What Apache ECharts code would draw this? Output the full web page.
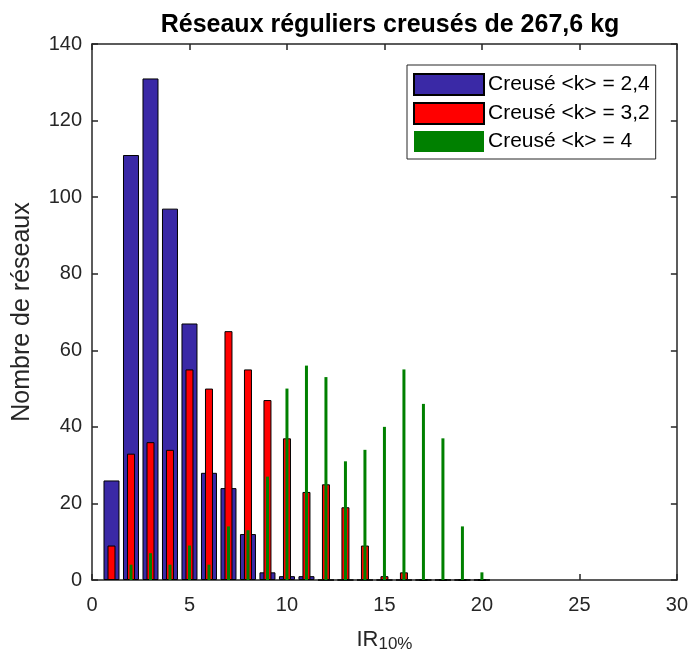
<!DOCTYPE html>
<html>
<head>
<meta charset="utf-8">
<script src="https://cdn.jsdelivr.net/npm/echarts@6/dist/echarts.min.js"></script>
<style>
  html, body { margin: 0; padding: 0; background: #fff; }
  #chart { width: 691px; height: 660px; }
</style>
</head>
<body>
<div id="chart"></div>
<script>
// positions IR10% (1..20), comptes par série
const irPos = [1, 2, 3, 4, 5, 6, 7, 8, 9, 10, 11, 12, 13, 14, 15, 16, 17, 18, 19, 20]
const creuse24 = [26, 111, 131, 97, 67, 28, 24, 12, 2, 1, 1, 0, 0, 0, 0, 0, 0, 0, 0, 0]
const creuse32 = [9, 33, 36, 34, 55, 50, 65, 55, 47, 37, 23, 25, 19, 9, 1, 2, 0, 0, 0, 0]
const creuse4 = [0, 4, 7, 4, 9, 4, 14, 13, 27, 50, 56, 53, 31, 34, 40, 55, 46, 37, 14, 2]
const seriesNames = ['Creusé <k> = 2,4', 'Creusé <k> = 3,2', 'Creusé <k> = 4']
const xTicks = [0, 30, 5]   // min, max, pas
const yTicks = [0, 140, 20]

const pairs = (vals) => irPos.map((x, i) => [x, vals[i]])

const chart = echarts.init(document.getElementById('chart'))
const axisCol = '#262626'
const font = 'Liberation Sans, Arial, sans-serif'

const baseX = {
  type: 'value', min: xTicks[0], max: xTicks[1], interval: xTicks[2],
  axisLine: { show: true, onZero: false, lineStyle: { color: axisCol, width: 1.5 } },
  axisTick: { show: true, inside: true, length: 6, lineStyle: { color: axisCol, width: 1.5 } },
  splitLine: { show: false }
}
const baseY = {
  type: 'value', min: yTicks[0], max: yTicks[1], interval: yTicks[2],
  axisLine: { show: true, onZero: false, lineStyle: { color: axisCol, width: 1.5 } },
  axisTick: { show: true, inside: true, length: 6, lineStyle: { color: axisCol, width: 1.5 } },
  splitLine: { show: false }
}

const option = {
  animation: false,
  textStyle: { fontFamily: font },
  title: {
    text: 'Réseaux réguliers creusés de 267,6 kg',
    left: 385, top: 8, textAlign: 'center',
    textStyle: { fontFamily: font, fontSize: 25, fontWeight: 'bold', color: '#000' }
  },
  grid: { left: 92, right: 13, top: 44, bottom: 80 },
  legend: {
    orient: 'vertical', left: 407, top: 65,
    padding: [8, 6, 7, 6], itemGap: 6,
    itemWidth: 70, itemHeight: 21,
    icon: 'rect',
    borderColor: '#262626', borderWidth: 1,
    backgroundColor: '#fff',
    data: seriesNames,
    textStyle: { fontFamily: font, fontSize: 21, color: '#000', padding: [0, 2, 0, -1] }
  },
  xAxis: [
    Object.assign({}, baseX, {
      position: 'bottom',
      name: '{a|IR}{b|10%}', nameLocation: 'middle', nameGap: 46,
      nameTextStyle: {
        rich: {
          a: { fontFamily: font, fontSize: 22, color: '#262626', verticalAlign: 'top', lineHeight: 24 },
          b: { fontFamily: font, fontSize: 17, color: '#262626', verticalAlign: 'bottom', padding: [16, 0, 0, 0], lineHeight: 24 }
        }
      },
      axisLabel: { fontFamily: font, fontSize: 20, color: '#262626', margin: 15 }
    }),
    Object.assign({}, baseX, { position: 'top', axisLabel: { show: false } }),
    Object.assign({}, baseX, { show: false })
  ],
  yAxis: [
    Object.assign({}, baseY, {
      position: 'left',
      name: 'Nombre de réseaux', nameLocation: 'middle', nameGap: 57,
      nameTextStyle: { fontFamily: font, fontSize: 25, color: '#262626' },
      axisLabel: { fontFamily: font, fontSize: 20, color: '#262626', margin: 10 }
    }),
    Object.assign({}, baseY, { position: 'right', axisLabel: { show: false } })
  ],
  series: [
    {
      name: seriesNames[0], type: 'bar', barWidth: 16, xAxisIndex: 0,
      itemStyle: { color: '#3A29A6', borderColor: '#000', borderWidth: 1 },
      data: pairs(creuse24)
    },
    {
      name: seriesNames[1], type: 'bar', barWidth: 8, xAxisIndex: 1,
      itemStyle: { color: '#ff0000', borderColor: '#000', borderWidth: 1 },
      data: pairs(creuse32)
    },
    {
      name: seriesNames[2], type: 'bar', barWidth: 3, xAxisIndex: 2,
      itemStyle: { color: '#008000', borderWidth: 0 },
      data: pairs(creuse4)
    }
  ]
}
chart.setOption(option)
</script>
</body>
</html>
